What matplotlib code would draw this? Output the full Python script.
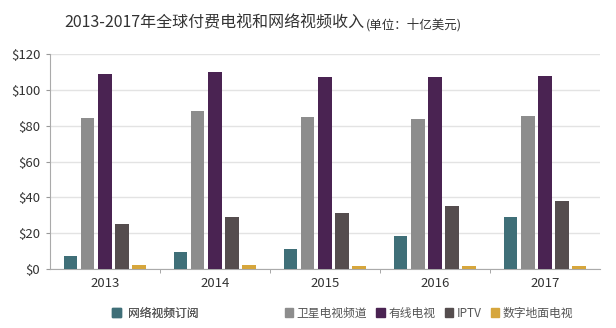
import numpy as np
import matplotlib
matplotlib.use('Agg')
import matplotlib.pyplot as plt
from matplotlib.patches import Patch

plt.rcParams['font.family'] = ['Noto Sans CJK SC', 'DejaVu Sans']

years = ['2013', '2014', '2015', '2016', '2017']
series = ['网络视频订阅', '卫星电视频道', '有线电视', 'IPTV', '数字地面电视']
online = [7, 9.5, 11, 18.5, 29]
satellite = [84.5, 88, 85, 84, 85.5]
cable = [109, 110, 107, 107, 108]
iptv = [25, 29, 31.5, 35, 38]
dtt = [2, 2, 1.5, 1.5, 1.5]
colors = ['#3f6f78', '#8d8d8d', '#4a2352', '#554d4e', '#d6a63c']

values = [online, satellite, cable, iptv, dtt]

fig = plt.figure(figsize=(6.16, 3.28), dpi=100)
ax = fig.add_axes([0.081, 0.18, 0.893, 0.655])

x = np.arange(len(years))
step = 0.155
width = 0.12
for i, (vals, c) in enumerate(zip(values, colors)):
    ax.bar(x + (i - 2) * step, vals, width, color=c, zorder=3)

ax.set_xlim(-0.5, len(years) - 0.5)
ax.set_ylim(0, 120)
ax.set_yticks(range(0, 121, 20))
ax.set_yticklabels(['$%d' % v for v in range(0, 121, 20)], fontsize=9.5, color='#333333')
ax.set_xticks(x)
ax.set_xticklabels(years, fontsize=9.5, color='#333333')
ax.set_xticks(np.arange(0.5, len(years) - 0.5, 1), minor=True)
ax.tick_params(axis='x', which='major', length=0, pad=6)
ax.tick_params(axis='x', which='minor', length=3, color='#999999')
ax.tick_params(axis='y', length=3, color='#999999', pad=4)
ax.grid(axis='y', color='#e3e3e3', linewidth=1, zorder=0)
for s in ['top', 'right']:
    ax.spines[s].set_visible(False)
for s in ['left', 'bottom']:
    ax.spines[s].set_color('#aaaaaa')

# title in two parts, the unit part smaller and placed right after the main text
t1 = fig.text(0.105, 0.93, '2013-2017年全球付费电视和网络视频收入', fontsize=11.5,
              color='#333333', va='center')
fig.canvas.draw()
bb = t1.get_window_extent(fig.canvas.get_renderer())
fig.text(bb.x1 / fig.bbox.width + 0.002, 0.925, '(单位：十亿美元)', fontsize=9,
         color='#333333', va='center')

h = [Patch(color=c) for c in colors]
leg1 = fig.legend(h[:1], series[:1], loc='center left', bbox_to_anchor=(0.165, 0.045),
                  frameon=False, fontsize=8.5, handlelength=0.7, handleheight=0.7,
                  handletextpad=0.6, labelcolor='#555555')
fig.add_artist(leg1)
fig.legend(h[1:], series[1:], loc='center left', bbox_to_anchor=(0.445, 0.045),
           ncol=4, frameon=False, fontsize=8.5, handlelength=0.7, handleheight=0.7,
           handletextpad=0.3, columnspacing=0.8, labelcolor='#555555')

fig.savefig('out.png', dpi=100)
